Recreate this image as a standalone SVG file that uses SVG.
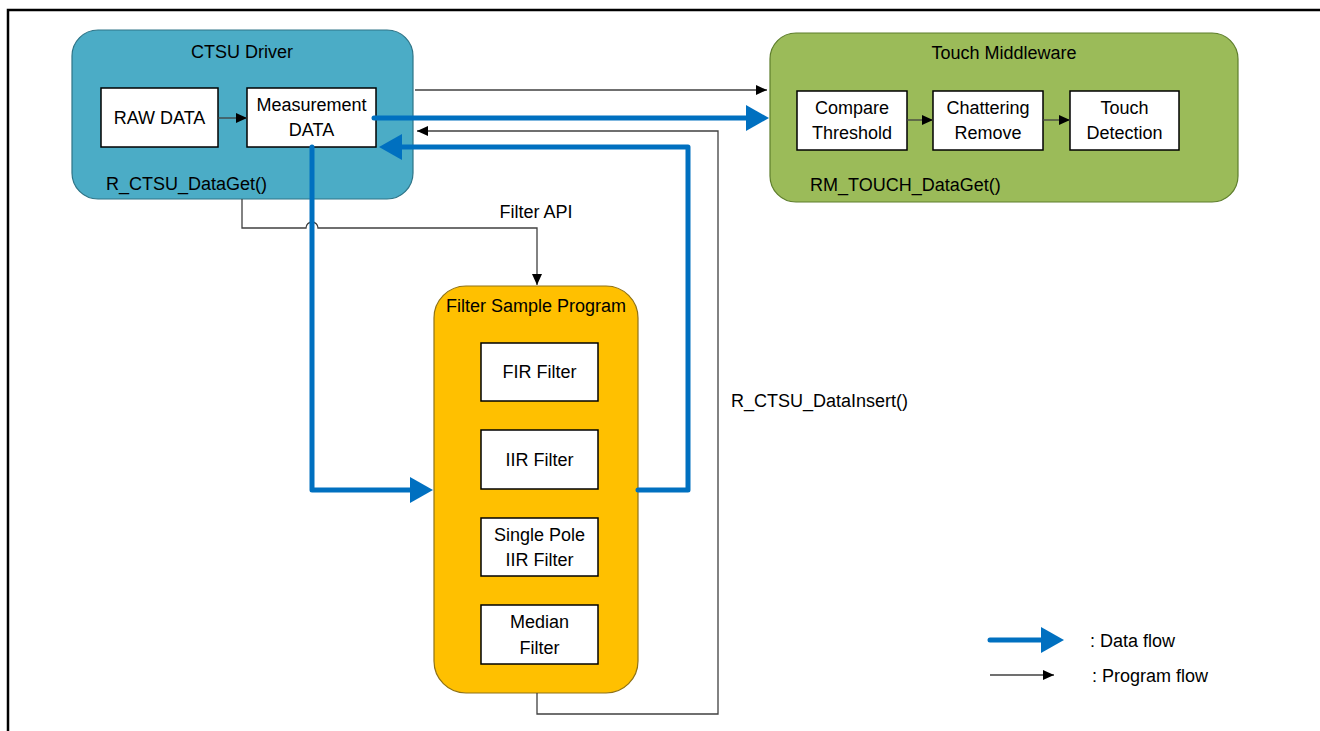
<svg xmlns="http://www.w3.org/2000/svg" width="1320" height="731" viewBox="0 0 1320 731">
<defs>
<style>
.t{font-family:"Liberation Sans",Arial,sans-serif;font-size:18px;fill:#000;text-anchor:middle}
.tl{font-family:"Liberation Sans",Arial,sans-serif;font-size:18px;fill:#000}
.box{fill:#fff;stroke:#000;stroke-width:1.5}
.pf{fill:none;stroke:#404040;stroke-width:1.3}
.df{fill:none;stroke:#0070C0;stroke-width:5;stroke-linecap:round;stroke-linejoin:round}
</style>
<marker id="ah" markerUnits="userSpaceOnUse" markerWidth="12" markerHeight="10" refX="11" refY="5" orient="auto"><path d="M0,0 L11,5 L0,10 z" fill="#000"/></marker>
<marker id="bh" markerUnits="userSpaceOnUse" markerWidth="24" markerHeight="26" refX="2" refY="13" orient="auto"><path d="M0,0 L23,13 L0,26 z" fill="#0070C0"/></marker>
</defs>
<rect x="0" y="0" width="1320" height="731" fill="#fff"/>
<path d="M8,731 V10 H1320" fill="none" stroke="#000" stroke-width="2.5"/>

<g id="ctsu">
<rect x="72" y="30" width="341" height="169" rx="26" fill="#4BACC6" stroke="#2E7487" stroke-width="1.2"/>
<text class="t" x="242" y="58">CTSU Driver</text>
<text class="tl" x="106" y="190">R_CTSU_DataGet()</text>
</g>
<g id="raw">
<rect class="box" x="101" y="88" width="117" height="59"/>
<text class="t" x="159.5" y="124">RAW DATA</text>
</g>
<g id="meas">
<rect class="box" x="247" y="88" width="129" height="59"/>
<text class="t" x="311.5" y="111">Measurement</text>
<text class="t" x="311.5" y="136">DATA</text>
</g>

<g id="touch">
<rect x="770" y="33" width="468" height="169" rx="26" fill="#9BBB59" stroke="#5E7E2C" stroke-width="1.2"/>
<text class="t" x="1004" y="59">Touch Middleware</text>
<text class="tl" x="810" y="191">RM_TOUCH_DataGet()</text>
</g>
<g id="compare">
<rect class="box" x="797" y="91" width="110" height="59"/>
<text class="t" x="852" y="114">Compare</text>
<text class="t" x="852" y="139">Threshold</text>
</g>
<g id="chatter">
<rect class="box" x="933" y="91" width="110" height="59"/>
<text class="t" x="988" y="114">Chattering</text>
<text class="t" x="988" y="139">Remove</text>
</g>
<g id="detect">
<rect class="box" x="1070" y="91" width="109" height="59"/>
<text class="t" x="1124.5" y="114">Touch</text>
<text class="t" x="1124.5" y="139">Detection</text>
</g>

<g id="filterprog">
<rect x="434" y="286" width="204" height="407" rx="32" fill="#FFC000" stroke="#8F7216" stroke-width="1.2"/>
<text class="t" x="536" y="312">Filter Sample Program</text>
</g>
<g id="fir">
<rect class="box" x="481" y="343" width="117" height="58"/>
<text class="t" x="539.5" y="378">FIR Filter</text>
</g>
<g id="iir">
<rect class="box" x="481" y="430" width="117" height="59"/>
<text class="t" x="539.5" y="466">IIR Filter</text>
</g>
<g id="spiir">
<rect class="box" x="481" y="518" width="117" height="58"/>
<text class="t" x="539.5" y="541">Single Pole</text>
<text class="t" x="539.5" y="566">IIR Filter</text>
</g>
<g id="median">
<rect class="box" x="481" y="605" width="117" height="59"/>
<text class="t" x="539.5" y="628">Median</text>
<text class="t" x="539.5" y="654">Filter</text>
</g>

<g id="connectors">
<path class="pf" d="M218,118 H247" marker-end="url(#ah)"/>
<path class="pf" d="M907,120 H933" marker-end="url(#ah)"/>
<path class="pf" d="M1043,120 H1070" marker-end="url(#ah)"/>
<path class="pf" d="M415,90 H767" marker-end="url(#ah)"/>
<path class="pf" d="M537,693 V714 H718 V131 H417" marker-end="url(#ah)"/>
<path class="pf" d="M242,199 V228 H306 A6,6 0 0 1 318,228 H537 V285" marker-end="url(#ah)"/>
<path class="df" d="M374,118 H748" marker-end="url(#bh)"/>
<path class="df" d="M312,147 V490 H412" marker-end="url(#bh)"/>
<path class="df" d="M638,490 H688 V147 H400" marker-end="url(#bh)"/>
<text class="t" x="536" y="218">Filter API</text>
<text class="tl" x="731" y="407">R_CTSU_DataInsert()</text>
</g>

<g id="legend">
<path class="df" d="M990,640 H1043" marker-end="url(#bh)"/>
<text class="tl" x="1090" y="647">: Data flow</text>
<path class="pf" d="M990,675 H1054" marker-end="url(#ah)"/>
<text class="tl" x="1092" y="682">: Program flow</text>
</g>
</svg>
